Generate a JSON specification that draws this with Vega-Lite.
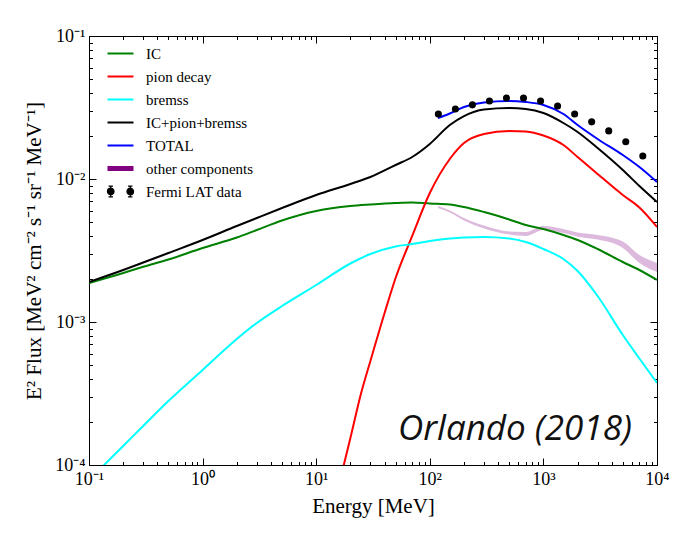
{
  "$schema": "https://vega.github.io/schema/vega-lite/v6.json",
  "width": 568,
  "height": 429,
  "autosize": "none",
  "padding": {"left": 89, "top": 36, "right": 26, "bottom": 76},
  "background": "white",
  "config": {"view": {"stroke": "black", "strokeWidth": 1}, "font": "Liberation Serif"},
  "datasets": {
    "lines": [
      {"series": "IC", "E": 0.1, "F": 0.001874}, {"series": "IC", "E": 0.2, "F": 0.002201}, {"series": "IC", "E": 0.3, "F": 0.002432},
      {"series": "IC", "E": 0.5, "F": 0.002736}, {"series": "IC", "E": 1, "F": 0.003292}, {"series": "IC", "E": 2, "F": 0.003899},
      {"series": "IC", "E": 3, "F": 0.004398}, {"series": "IC", "E": 5, "F": 0.005126}, {"series": "IC", "E": 10, "F": 0.005973},
      {"series": "IC", "E": 20, "F": 0.006474}, {"series": "IC", "E": 30, "F": 0.006632}, {"series": "IC", "E": 50, "F": 0.006794},
      {"series": "IC", "E": 70, "F": 0.006849}, {"series": "IC", "E": 100, "F": 0.00674}, {"series": "IC", "E": 150, "F": 0.006632},
      {"series": "IC", "E": 200, "F": 0.006371}, {"series": "IC", "E": 300, "F": 0.005878}, {"series": "IC", "E": 500, "F": 0.005209},
      {"series": "IC", "E": 700, "F": 0.004768}, {"series": "IC", "E": 1000, "F": 0.004471}, {"series": "IC", "E": 1500, "F": 0.004059},
      {"series": "IC", "E": 2000, "F": 0.003745}, {"series": "IC", "E": 3000, "F": 0.003239}, {"series": "IC", "E": 5000, "F": 0.002628},
      {"series": "IC", "E": 7000, "F": 0.00231}, {"series": "IC", "E": 10000, "F": 0.001967},

      {"series": "pion decay", "E": 15, "F": 0.0000607}, {"series": "pion decay", "E": 20, "F": 0.0001545}, {"series": "pion decay", "E": 25, "F": 0.0003239},
      {"series": "pion decay", "E": 30, "F": 0.0005338}, {"series": "pion decay", "E": 40, "F": 0.001156}, {"series": "pion decay", "E": 50, "F": 0.002031},
      {"series": "pion decay", "E": 70, "F": 0.003995}, {"series": "pion decay", "E": 100, "F": 0.00798}, {"series": "pion decay", "E": 150, "F": 0.0138},
      {"series": "pion decay", "E": 200, "F": 0.01785}, {"series": "pion decay", "E": 300, "F": 0.02064}, {"series": "pion decay", "E": 500, "F": 0.02166},
      {"series": "pion decay", "E": 700, "F": 0.02149}, {"series": "pion decay", "E": 1000, "F": 0.02015}, {"series": "pion decay", "E": 1500, "F": 0.01729},
      {"series": "pion decay", "E": 2000, "F": 0.01425}, {"series": "pion decay", "E": 3000, "F": 0.01084}, {"series": "pion decay", "E": 5000, "F": 0.007729},
      {"series": "pion decay", "E": 7000, "F": 0.00632}, {"series": "pion decay", "E": 10000, "F": 0.004616},

      {"series": "bremss", "E": 0.1, "F": 0.00007854}, {"series": "bremss", "E": 0.2, "F": 0.0001358}, {"series": "bremss", "E": 0.3, "F": 0.0001875},
      {"series": "bremss", "E": 0.5, "F": 0.0002803}, {"series": "bremss", "E": 1, "F": 0.0004617}, {"series": "bremss", "E": 2, "F": 0.0007603},
      {"series": "bremss", "E": 3, "F": 0.000984}, {"series": "bremss", "E": 5, "F": 0.001294}, {"series": "bremss", "E": 10, "F": 0.001815},
      {"series": "bremss", "E": 20, "F": 0.002565}, {"series": "bremss", "E": 30, "F": 0.002989}, {"series": "bremss", "E": 50, "F": 0.003373},
      {"series": "bremss", "E": 70, "F": 0.003512}, {"series": "bremss", "E": 100, "F": 0.003685}, {"series": "bremss", "E": 150, "F": 0.003836},
      {"series": "bremss", "E": 200, "F": 0.003899}, {"series": "bremss", "E": 300, "F": 0.00393}, {"series": "bremss", "E": 500, "F": 0.003836},
      {"series": "bremss", "E": 700, "F": 0.003626}, {"series": "bremss", "E": 1000, "F": 0.003239}, {"series": "bremss", "E": 1500, "F": 0.002758},
      {"series": "bremss", "E": 2000, "F": 0.002273}, {"series": "bremss", "E": 3000, "F": 0.00152}, {"series": "bremss", "E": 5000, "F": 0.0008111},
      {"series": "bremss", "E": 7000, "F": 0.0005556}, {"series": "bremss", "E": 10000, "F": 0.0003745},

      {"series": "IC+pion+bremss", "E": 0.1, "F": 0.001904}, {"series": "IC+pion+bremss", "E": 0.2, "F": 0.00231}, {"series": "IC+pion+bremss", "E": 0.3, "F": 0.002606},
      {"series": "IC+pion+bremss", "E": 0.5, "F": 0.003038}, {"series": "IC+pion+bremss", "E": 1, "F": 0.003745}, {"series": "IC+pion+bremss", "E": 2, "F": 0.004692},
      {"series": "IC+pion+bremss", "E": 3, "F": 0.005338}, {"series": "IC+pion+bremss", "E": 5, "F": 0.00627}, {"series": "IC+pion+bremss", "E": 10, "F": 0.007729},
      {"series": "IC+pion+bremss", "E": 20, "F": 0.009226}, {"series": "IC+pion+bremss", "E": 30, "F": 0.01033}, {"series": "IC+pion+bremss", "E": 50, "F": 0.01253},
      {"series": "IC+pion+bremss", "E": 70, "F": 0.01425}, {"series": "IC+pion+bremss", "E": 100, "F": 0.01757}, {"series": "IC+pion+bremss", "E": 150, "F": 0.02385},
      {"series": "IC+pion+bremss", "E": 200, "F": 0.02757}, {"series": "IC+pion+bremss", "E": 300, "F": 0.03062}, {"series": "IC+pion+bremss", "E": 500, "F": 0.03137},
      {"series": "IC+pion+bremss", "E": 700, "F": 0.03087}, {"series": "IC+pion+bremss", "E": 1000, "F": 0.02893}, {"series": "IC+pion+bremss", "E": 1500, "F": 0.02464},
      {"series": "IC+pion+bremss", "E": 2000, "F": 0.02132}, {"series": "IC+pion+bremss", "E": 3000, "F": 0.01647}, {"series": "IC+pion+bremss", "E": 5000, "F": 0.01156},
      {"series": "IC+pion+bremss", "E": 7000, "F": 0.008933}, {"series": "IC+pion+bremss", "E": 10000, "F": 0.006906},

      {"series": "TOTAL", "E": 118, "F": 0.02671}, {"series": "TOTAL", "E": 150, "F": 0.02871}, {"series": "TOTAL", "E": 200, "F": 0.03188},
      {"series": "TOTAL", "E": 300, "F": 0.03428}, {"series": "TOTAL", "E": 500, "F": 0.03512}, {"series": "TOTAL", "E": 700, "F": 0.03456},
      {"series": "TOTAL", "E": 1000, "F": 0.03292}, {"series": "TOTAL", "E": 1500, "F": 0.02848}, {"series": "TOTAL", "E": 2000, "F": 0.02385},
      {"series": "TOTAL", "E": 3000, "F": 0.01905}, {"series": "TOTAL", "E": 5000, "F": 0.01472}, {"series": "TOTAL", "E": 7000, "F": 0.01213},
      {"series": "TOTAL", "E": 10000, "F": 0.009528}
    ],
    "band": [
      {"E": 118, "lo": 0.00627, "hi": 0.006474}, {"E": 150, "lo": 0.005831, "hi": 0.006021}, {"E": 200, "lo": 0.005126, "hi": 0.005338},
      {"E": 300, "lo": 0.004507, "hi": 0.00473}, {"E": 500, "lo": 0.004092, "hi": 0.004295}, {"E": 700, "lo": 0.003995, "hi": 0.004261},
      {"E": 1000, "lo": 0.004398, "hi": 0.004692}, {"E": 1500, "lo": 0.004193, "hi": 0.004471}, {"E": 2000, "lo": 0.00395, "hi": 0.004226},
      {"E": 3000, "lo": 0.003769, "hi": 0.004059}, {"E": 5000, "lo": 0.003292, "hi": 0.003655}, {"E": 7000, "lo": 0.002586, "hi": 0.002941},
      {"E": 10000, "lo": 0.002237, "hi": 0.002586}
    ],
    "fermi": [
      {"E": 118.9, "F": 0.0285}, {"E": 167.9, "F": 0.0309}, {"E": 237.1, "F": 0.033}, {"E": 335.0, "F": 0.0351},
      {"E": 473.2, "F": 0.0368}, {"E": 668.3, "F": 0.0368}, {"E": 944.1, "F": 0.0351}, {"E": 1333.5, "F": 0.0324},
      {"E": 1883.6, "F": 0.0285}, {"E": 2660.7, "F": 0.0251}, {"E": 3758.4, "F": 0.0217}, {"E": 5308.8, "F": 0.0182},
      {"E": 7498.9, "F": 0.0145}
    ],
    "note": [{"t": "Orlando (2018)"}]
  },
  "layer": [
    {
      "data": {"name": "band"},
      "mark": {"type": "area", "color": "purple", "opacity": 0.27, "clip": true, "interpolate": "monotone"},
      "encoding": {
        "x": {"field": "E", "type": "quantitative", "scale": {"type": "log", "domain": [0.1, 10000], "nice": false},
          "axis": {"orient": "bottom",
            "values": [0.1,0.2,0.3,0.4,0.5,0.6,0.7,0.8,0.9,1,2,3,4,5,6,7,8,9,10,20,30,40,50,60,70,80,90,100,200,300,400,500,600,700,800,900,1000,2000,3000,4000,5000,6000,7000,8000,9000,10000],
            "labelExpr": "datum.value == 0.1 ? '10⁻¹' : datum.value == 1 ? '10⁰' : datum.value == 10 ? '10¹' : datum.value == 100 ? '10²' : datum.value == 1000 ? '10³' : datum.value == 10000 ? '10⁴' : ''",
            "tickSize": {"condition": {"test": "indexof([0.1,1,10,100,1000,10000], datum.value) >= 0", "value": -7}, "value": -3.5},
            "tickColor": "black", "tickWidth": 1, "domainColor": "black", "grid": false,
            "labelFont": "Liberation Serif", "labelFontSize": 18, "labelColor": "black", "labelPadding": 12,
            "labelFlush": false, "labelOverlap": false, "labelBound": false,
            "title": "Energy [MeV]", "titleFont": "Liberation Serif", "titleFontSize": 21, "titleFontWeight": "normal",
            "titleColor": "black", "titleBaseline": "alphabetic", "titleY": 47}},
        "y": {"field": "lo", "type": "quantitative", "scale": {"type": "log", "domain": [0.0001, 0.1], "nice": false},
          "axis": {"orient": "left",
            "values": [0.0001,0.0002,0.0003,0.0004,0.0005,0.0006,0.0007,0.0008,0.0009,0.001,0.002,0.003,0.004,0.005,0.006,0.007,0.008,0.009,0.01,0.02,0.03,0.04,0.05,0.06,0.07,0.08,0.09,0.1],
            "labelExpr": "datum.value == 0.0001 ? '10⁻⁴' : datum.value == 0.001 ? '10⁻³' : datum.value == 0.01 ? '10⁻²' : datum.value == 0.1 ? '10⁻¹' : ''",
            "tickSize": {"condition": {"test": "indexof([0.0001,0.001,0.01,0.1], datum.value) >= 0", "value": -7}, "value": -3.5},
            "tickColor": "black", "tickWidth": 1, "domainColor": "black", "grid": false,
            "labelFont": "Liberation Serif", "labelFontSize": 18, "labelColor": "black", "labelPadding": 11,
            "labelFlush": false, "labelOverlap": false, "labelBound": false,
            "title": "E²  Flux [MeV²  cm⁻²  s⁻¹  sr⁻¹  MeV⁻¹]", "titleFont": "Liberation Serif", "titleFontSize": 21,
            "titleFontWeight": "normal", "titleColor": "black", "titleX": -55, "titleY": 214.5, "titleBaseline": "middle", "titleAlign": "center"}},
        "y2": {"field": "hi"}
      }
    },
    {
      "data": {"name": "lines"},
      "mark": {"type": "line", "strokeWidth": 2, "clip": true, "interpolate": "monotone"},
      "encoding": {
        "x": {"field": "E", "type": "quantitative", "axis": null},
        "y": {"field": "F", "type": "quantitative", "axis": null},
        "color": {"field": "series", "type": "nominal",
          "scale": {"domain": ["IC", "pion decay", "bremss", "IC+pion+bremss", "TOTAL", "other components", "Fermi LAT data"],
                    "range": ["#008000", "#ff0000", "#00ffff", "#000000", "#0000ff", "#800080", "#000000"]},
          "legend": {"title": null, "orient": "none", "legendX": 24, "legendY": 10, "padding": 0, "gridAlign": "all",
            "symbolType": "stroke", "symbolSize": 676, "symbolStrokeWidth": 2,
            "labelFont": "Liberation Serif", "labelFontSize": 15, "labelColor": "black", "labelOffset": 18, "rowPadding": 2,
            "encode": {"symbols": {"update": {
              "shape": {"signal": "datum.value === 'Fermi LAT data' ? 'M-1,0A0.25,0.25,0,1,0,-0.5,0A0.25,0.25,0,1,0,-1,0Z M0.5,0A0.25,0.25,0,1,0,1,0A0.25,0.25,0,1,0,0.5,0Z M-0.75,-0.42L-0.75,0.42 M-0.92,-0.42L-0.58,-0.42 M-0.92,0.42L-0.58,0.42 M0.75,-0.42L0.75,0.42 M0.58,-0.42L0.92,-0.42 M0.58,0.42L0.92,0.42' : 'stroke'"},
              "strokeWidth": {"signal": "datum.value === 'other components' ? 5 : datum.value === 'Fermi LAT data' ? 1.3 : 2"},
              "fill": {"signal": "datum.value === 'Fermi LAT data' ? 'black' : 'transparent'"},
              "opacity": {"value": 1}
            }}}}}
      }
    },
    {
      "data": {"name": "fermi"},
      "mark": {"type": "point", "filled": true, "color": "black", "size": 50, "opacity": 1},
      "encoding": {
        "x": {"field": "E", "type": "quantitative",
          "axis": {"orient": "top", "values": [0.1,0.2,0.3,0.4,0.5,0.6,0.7,0.8,0.9,1,2,3,4,5,6,7,8,9,10,20,30,40,50,60,70,80,90,100,200,300,400,500,600,700,800,900,1000,2000,3000,4000,5000,6000,7000,8000,9000,10000],
            "labels": false, "title": null, "grid": false, "tickColor": "black", "domainColor": "black",
            "tickSize": {"condition": {"test": "indexof([0.1,1,10,100,1000,10000], datum.value) >= 0", "value": -7}, "value": -3.5}}},
        "y": {"field": "F", "type": "quantitative",
          "axis": {"orient": "right", "values": [0.0001,0.0002,0.0003,0.0004,0.0005,0.0006,0.0007,0.0008,0.0009,0.001,0.002,0.003,0.004,0.005,0.006,0.007,0.008,0.009,0.01,0.02,0.03,0.04,0.05,0.06,0.07,0.08,0.09,0.1],
            "labels": false, "title": null, "grid": false, "tickColor": "black", "domainColor": "black",
            "tickSize": {"condition": {"test": "indexof([0.0001,0.001,0.01,0.1], datum.value) >= 0", "value": -7}, "value": -3.5}}}
      }
    },
    {
      "data": {"name": "note"},
      "mark": {"type": "text", "font": "Open Sans", "fontStyle": "italic", "fontSize": 35, "align": "left", "baseline": "alphabetic", "color": "#111111"},
      "encoding": {
        "x": {"datum": 52.5, "type": "quantitative", "axis": null},
        "y": {"datum": 0.0001496, "type": "quantitative", "axis": null},
        "text": {"field": "t"}
      }
    }
  ],
  "resolve": {"axis": {"x": "independent", "y": "independent"}}
}
